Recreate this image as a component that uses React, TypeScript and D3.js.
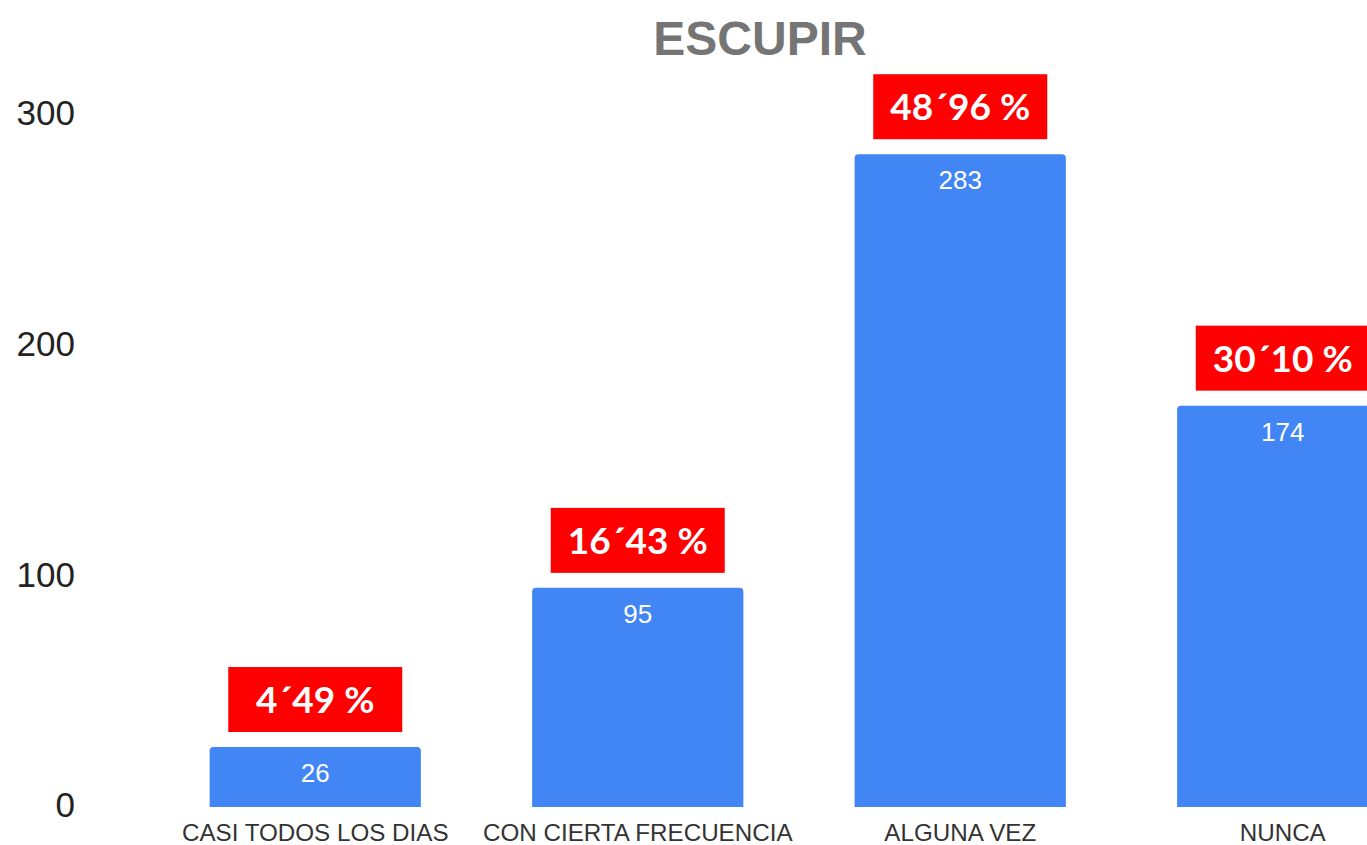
import React from "react";
import * as d3 from "d3";

const categories = ["CASI TODOS LOS DIAS", "CON CIERTA FRECUENCIA", "ALGUNA VEZ", "NUNCA"];
const values = [26, 95, 283, 174];
const percentLabels = ["4´49 %", "16´43 %", "48´96 %", "30´10 %"];
const yTicks = [0, 100, 200, 300];
const title = "ESCUPIR";

const W = 1367;
const H = 845;

export default function App() {
  const x = d3.scaleBand<string>().domain(categories).range([154, 1444]).paddingInner(0.345).paddingOuter(0.1725);
  const y = d3.scaleLinear().domain([0, 300]).range([807, 115]);
  const bw = x.bandwidth();
  return (
    <svg width={W} height={H} style={{ position: "absolute", left: 0, top: 0, background: "#fff" }}>
      <text x={760} y={55} textAnchor="middle" fontFamily="'Liberation Sans', Arial, sans-serif" fontWeight="bold" fontSize={48} fill="#757575">
        {title}
      </text>
      {yTicks.map((t) => (
        <text key={t} x={75} y={y(t) - 2} dy="0.35em" textAnchor="end" fontFamily="'Liberation Sans', Arial, sans-serif" fontSize={35} fill="#222">
          {t}
        </text>
      ))}
      {categories.map((c, i) => {
        const x0 = x(c)!;
        const cx = x0 + bw / 2;
        const yt = y(values[i]);
        return (
          <g key={c}>
            <path
              d={`M${x0},${y(0)} V${yt + 4} Q${x0},${yt} ${x0 + 4},${yt} H${x0 + bw - 4} Q${x0 + bw},${yt} ${x0 + bw},${yt + 4} V${y(0)} Z`}
              fill="#4285F4"
            />
            <text x={cx} y={yt + 35} textAnchor="middle" fontFamily="'Liberation Sans', Arial, sans-serif" fontSize={26} fill="#fff">
              {values[i]}
            </text>
            <rect x={cx - 87} y={yt - 80} width={174} height={65} fill="#FF0000" />
            <text x={cx} y={yt - 47} dy="0.35em" textAnchor="middle" fontFamily="Lato, 'Open Sans', sans-serif" fontWeight="bold" fontSize={37} fill="#fff">
              {percentLabels[i]}
            </text>
            <text x={cx} y={841} textAnchor="middle" fontFamily="'Liberation Sans', Arial, sans-serif" fontSize={24.2} fill="#333">
              {c}
            </text>
          </g>
        );
      })}
    </svg>
  );
}
